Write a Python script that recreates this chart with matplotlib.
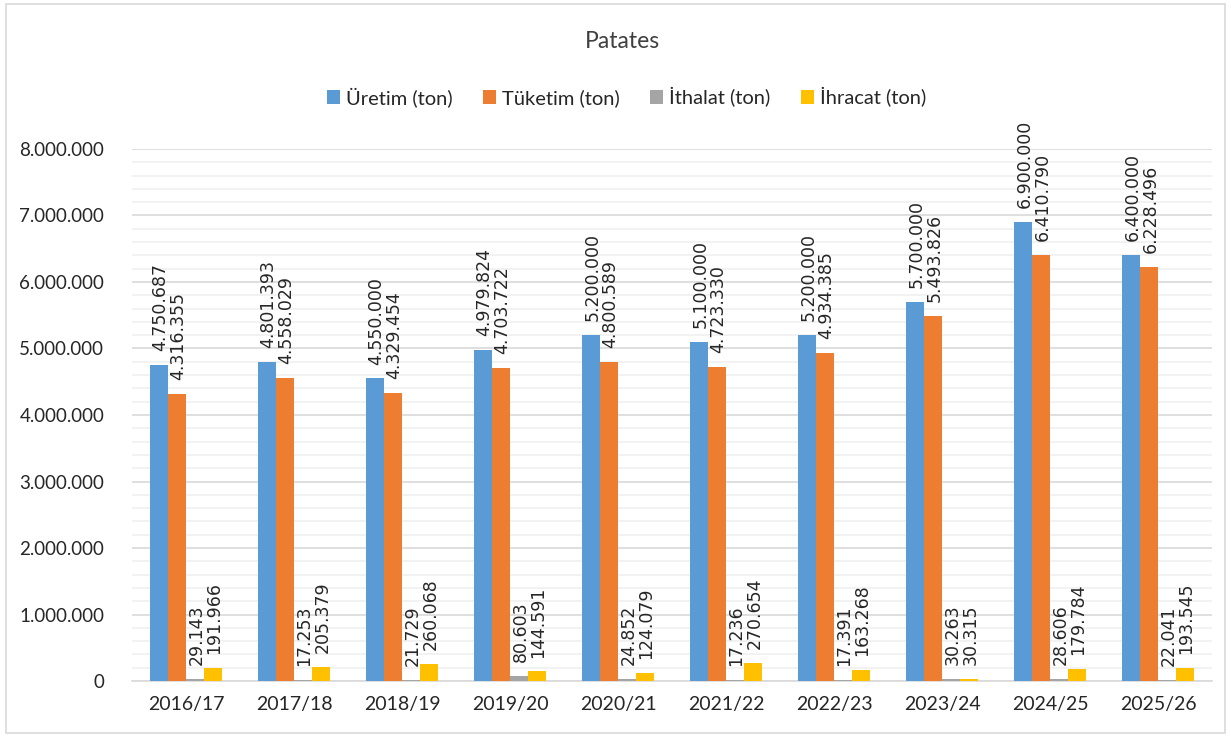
import matplotlib.pyplot as plt
import numpy as np
from matplotlib.patches import Rectangle
from matplotlib.ticker import MultipleLocator, FuncFormatter

plt.rcParams['font.family'] = ['Lato', 'DejaVu Sans']

# sezonlar ve seriler
sezonlar = ['2016/17', '2017/18', '2018/19', '2019/20', '2020/21',
            '2021/22', '2022/23', '2023/24', '2024/25', '2025/26']
uretim = [4750687, 4801393, 4550000, 4979824, 5200000,
          5100000, 5200000, 5700000, 6900000, 6400000]
tuketim = [4316355, 4558029, 4329454, 4703722, 4800589,
           4723330, 4934385, 5493826, 6410790, 6228496]
ithalat = [29143, 17253, 21729, 80603, 24852,
           17236, 17391, 30263, 28606, 22041]
ihracat = [191966, 205379, 260068, 144591, 124079,
           270654, 163268, 30315, 179784, 193545]

seriler = [
    ('Üretim (ton)', uretim, '#5B9BD5'),
    ('Tüketim (ton)', tuketim, '#ED7D31'),
    ('İthalat (ton)', ithalat, '#A5A5A5'),
    ('İhracat (ton)', ihracat, '#FFC000'),
]


def nokta_format(v, pos=None):
    return f"{int(v):,}".replace(",", ".")


fig = plt.figure(figsize=(12.31, 7.36), dpi=100)
ax = fig.add_axes([0.1072, 0.0747, 0.8774, 0.7229])

x = np.arange(len(sezonlar))
w = 0.167
for i, (ad, degerler, renk) in enumerate(seriler):
    pos = x + (i - 1.5) * w
    ax.bar(pos, degerler, width=w, color=renk, label=ad, zorder=3)
    for px, v in zip(pos, degerler):
        ax.annotate(nokta_format(v), (px, v), xytext=(1, 10),
                    textcoords='offset points', rotation=90,
                    ha='center', va='bottom', fontsize=12.5,
                    family='DejaVu Sans', color='#262626')

ax.set_xlim(-0.5, len(sezonlar) - 0.5)
ax.set_ylim(0, 8000000)
ax.yaxis.set_major_locator(MultipleLocator(1000000))
ax.yaxis.set_minor_locator(MultipleLocator(200000))
ax.yaxis.set_major_formatter(FuncFormatter(nokta_format))
ax.grid(axis='y', which='major', color='#d9d9d9', linewidth=1.2, zorder=0)
ax.grid(axis='y', which='minor', color='#f0f0f0', linewidth=1.2, zorder=0)
ax.set_xticks(x)
ax.set_xticklabels(sezonlar)
ax.tick_params(axis='both', which='both', length=0, labelsize=13.5,
               colors='#262626')
ax.tick_params(axis='x', labelsize=14, pad=11)
ax.tick_params(axis='y', pad=20)
for s in ['top', 'right', 'left']:
    ax.spines[s].set_visible(False)
ax.spines['bottom'].set_color('#d9d9d9')
ax.spines['bottom'].set_linewidth(1.2)

fig.text(0.506, 0.943, 'Patates', ha='center', va='center',
         fontsize=16.5, color='#404040')
fig.legend(loc='center', bbox_to_anchor=(0.509, 0.868), ncol=4,
           frameon=False, fontsize=14.5, handlelength=0.65, handleheight=0.65,
           handletextpad=0.3, columnspacing=1.5, labelcolor='#262626')

fig.patches.append(Rectangle((0.005, 0.004), 0.99, 0.99,
                             transform=fig.transFigure, fill=False,
                             edgecolor='#d9d9d9', linewidth=1.2))

fig.savefig('out.png', dpi=100, facecolor='white')
